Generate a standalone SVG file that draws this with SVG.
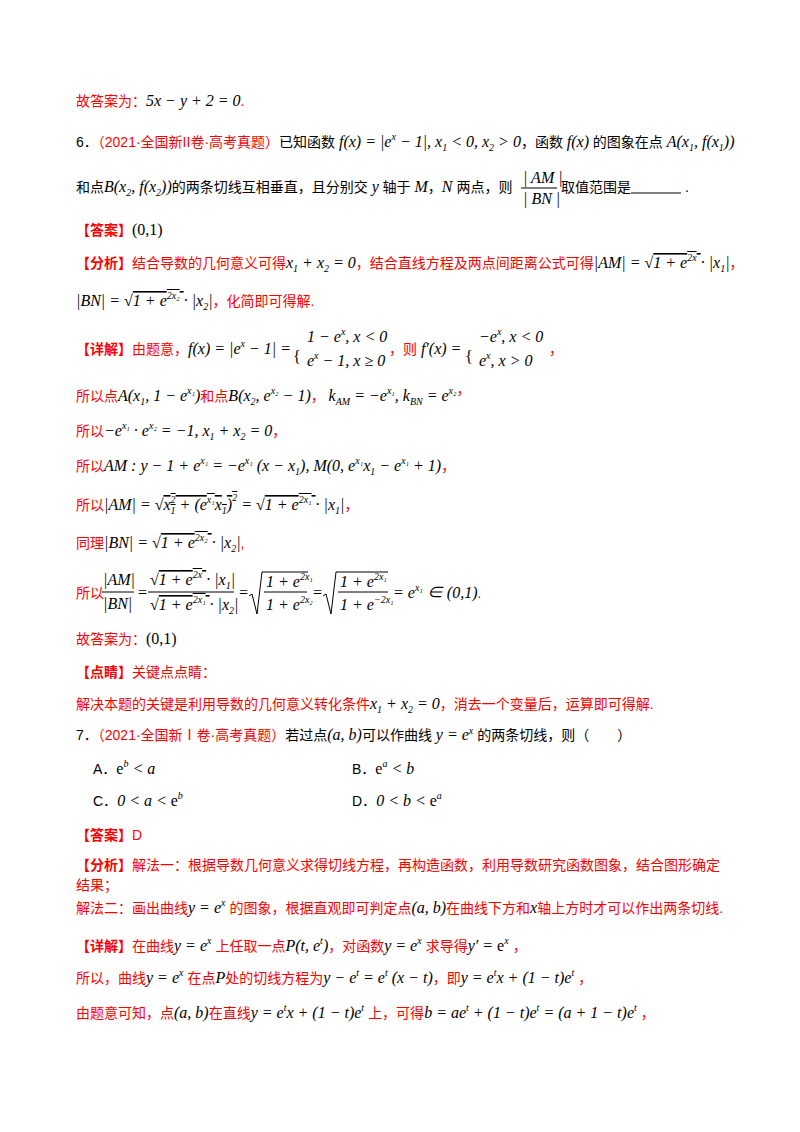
<svg xmlns="http://www.w3.org/2000/svg" width="800" height="1132" viewBox="0 0 800 1132">
<style>
text{font-family:"Liberation Sans","Noto Sans CJK SC",sans-serif;font-size:14px;fill:#000}
.r{fill:#f00}
tspan.r{fill:#f00}
.m{font-family:"Liberation Serif","Noto Sans CJK SC",serif;font-style:italic;font-size:16px;fill:#000}
.n{font-family:"Liberation Serif",serif;font-style:normal;font-size:16px;fill:#000}
.s{font-size:10px}
.b{font-weight:bold}
.o{text-decoration:overline}
.ln{stroke:#000;stroke-width:1;fill:none}
</style>
<rect width="800" height="1132" fill="#fff"/>
<text x="76" y="106" class="r">故答案为：<tspan class="m">5x − y + 2 = 0</tspan>.</text>

<text x="76" y="147">6．<tspan class="r">（2021·全国新II卷·高考真题）</tspan>已知函数 <tspan class="m">f(x) = |e<tspan class="s" dy="-7">x</tspan><tspan dy="7"> − 1|, x</tspan><tspan class="s" dy="4">1</tspan><tspan dy="-4"> &lt; 0, x</tspan><tspan class="s" dy="4">2</tspan><tspan dy="-4"> &gt; 0</tspan></tspan>，函数 <tspan class="m" font-size="12">f(x)</tspan> 的图象在点 <tspan class="m">A(x<tspan class="s" dy="4">1</tspan><tspan dy="-4">, f(x</tspan><tspan class="s" dy="4">1</tspan><tspan dy="-4">))</tspan></tspan></text>

<text x="76" y="192">和点<tspan class="m">B(x<tspan class="s" dy="4">2</tspan><tspan dy="-4">, f(x</tspan><tspan class="s" dy="4">2</tspan><tspan dy="-4">))</tspan></tspan>的两条切线互相垂直，且分别交 <tspan class="m">y</tspan> 轴于 <tspan class="m">M</tspan>，<tspan class="m">N</tspan> 两点，则</text>
<text x="523" y="183" class="m">| AM |</text>
<line x1="521" y1="188" x2="557" y2="188" class="ln"/>
<text x="523" y="204" class="m">| BN |</text>
<text x="561" y="192">取值范围是</text>
<line x1="631" y1="193" x2="681" y2="193" class="ln" stroke-width="1.5"/>
<text x="685" y="192">.</text>

<text x="76" y="235" class="r"><tspan class="b">【答案】</tspan><tspan class="n">(0,1)</tspan></text>

<text x="76" y="268" class="r"><tspan class="b">【分析】</tspan>结合导数的几何意义可得<tspan class="m">x<tspan class="s" dy="4">1</tspan><tspan dy="-4"> + x</tspan><tspan class="s" dy="4">2</tspan><tspan dy="-4"> = 0</tspan></tspan>，结合直线方程及两点间距离公式可得<tspan class="m">|AM| = <tspan class="n">√</tspan><tspan class="o">1 + e<tspan class="s" dy="-7">2x</tspan><tspan dy="7"> </tspan></tspan> · |x<tspan class="s" dy="4">1</tspan><tspan dy="-4">|</tspan></tspan>，</text>

<text x="76" y="306" class="r"><tspan class="m">|BN| = <tspan class="n">√</tspan><tspan class="o">1 + e<tspan class="s" dy="-7">2x₂</tspan><tspan dy="7"> </tspan></tspan> · |x<tspan class="s" dy="4">2</tspan><tspan dy="-4">|</tspan></tspan>，化简即可得解.</text>

<text x="76" y="354" class="r"><tspan class="b">【详解】</tspan>由题意，<tspan class="m">f(x) = |e<tspan class="s" dy="-7">x</tspan><tspan dy="7"> − 1| =</tspan></tspan></text>
<text x="293" y="362" class="n" font-size="38">{</text>
<text x="307" y="342" class="m">1 − e<tspan class="s" dy="-7">x</tspan><tspan dy="7">, x &lt; 0</tspan></text>
<text x="307" y="366" class="m">e<tspan class="s" dy="-7">x</tspan><tspan dy="7"> − 1, x ≥ 0</tspan></text>
<text x="389" y="354" class="r">，则 <tspan class="m">f′(x) =</tspan></text>
<text x="465" y="362" class="n" font-size="38">{</text>
<text x="479" y="342" class="m">−e<tspan class="s" dy="-7">x</tspan><tspan dy="7">, x &lt; 0</tspan></text>
<text x="479" y="366" class="m">e<tspan class="s" dy="-7">x</tspan><tspan dy="7">, x &gt; 0</tspan></text>
<text x="549" y="354" class="r">，</text>

<text x="76" y="401" class="r">所以点<tspan class="m">A(x<tspan class="s" dy="4">1</tspan><tspan dy="-4">, 1 − e</tspan><tspan class="s" dy="-7">x₁</tspan><tspan dy="7">)</tspan></tspan>和点<tspan class="m">B(x<tspan class="s" dy="4">2</tspan><tspan dy="-4">, e</tspan><tspan class="s" dy="-7">x₂</tspan><tspan dy="7"> − 1)</tspan></tspan>，  <tspan class="m">k<tspan class="s" dy="4">AM</tspan><tspan dy="-4"> = −e</tspan><tspan class="s" dy="-7">x₁</tspan><tspan dy="7">, k</tspan><tspan class="s" dy="4">BN</tspan><tspan dy="-4"> = e</tspan><tspan class="s" dy="-7">x₂</tspan><tspan dy="7"></tspan></tspan>，</text>

<text x="76" y="436" class="r">所以<tspan class="m">−e<tspan class="s" dy="-7">x₁</tspan><tspan dy="7"> · e</tspan><tspan class="s" dy="-7">x₂</tspan><tspan dy="7"> = −1, x</tspan><tspan class="s" dy="4">1</tspan><tspan dy="-4"> + x</tspan><tspan class="s" dy="4">2</tspan><tspan dy="-4"> = 0</tspan></tspan>，</text>

<text x="76" y="471" class="r">所以<tspan class="m">AM : y − 1 + e<tspan class="s" dy="-7">x₁</tspan><tspan dy="7"> = −e</tspan><tspan class="s" dy="-7">x₁</tspan><tspan dy="7"> (x − x</tspan><tspan class="s" dy="4">1</tspan><tspan dy="-4">), M(0, e</tspan><tspan class="s" dy="-7">x₁</tspan><tspan dy="7">x</tspan><tspan class="s" dy="4">1</tspan><tspan dy="-4"> − e</tspan><tspan class="s" dy="-7">x₁</tspan><tspan dy="7"> + 1)</tspan></tspan>，</text>

<text x="76" y="510" class="r">所以<tspan class="m">|AM| = <tspan class="n" font-size="22">√</tspan><tspan class="o">x<tspan class="s" dy="-7">2</tspan><tspan class="s" dx="-5" dy="11">1</tspan><tspan dy="-4"> + (e</tspan><tspan class="s" dy="-7">x₁</tspan><tspan dy="7">x</tspan><tspan class="s" dy="4">1</tspan><tspan dy="-4">)</tspan><tspan class="s" dy="-9">2</tspan></tspan><tspan dy="9"> = </tspan><tspan class="n">√</tspan><tspan class="o">1 + e<tspan class="s" dy="-7">2x₁</tspan><tspan dy="7"> </tspan></tspan> · |x<tspan class="s" dy="4">1</tspan><tspan dy="-4">|</tspan></tspan>，</text>

<text x="76" y="548" class="r">同理<tspan class="m">|BN| = <tspan class="n">√</tspan><tspan class="o">1 + e<tspan class="s" dy="-7">2x₂</tspan><tspan dy="7"> </tspan></tspan> · |x<tspan class="s" dy="4">2</tspan><tspan dy="-4">|</tspan></tspan>,</text>

<text x="76" y="598" class="r">所以</text>
<text x="103" y="585" class="m">|AM|</text>
<line x1="102" y1="592" x2="134" y2="592" class="ln"/>
<text x="103" y="609" class="m">|BN|</text>
<text x="137" y="598" class="m">=</text>
<text x="150" y="585" class="m"><tspan class="n">√</tspan><tspan class="o">1 + e<tspan class="s" dy="-7">2x</tspan><tspan dy="7"> </tspan></tspan> · |x<tspan class="s" dy="4">1</tspan><tspan dy="-4">|</tspan></text>
<line x1="148" y1="592" x2="234" y2="592" class="ln"/>
<text x="150" y="610" class="m"><tspan class="n">√</tspan><tspan class="o">1 + e<tspan class="s" dy="-7">2x₁</tspan><tspan dy="7"> </tspan></tspan> · |x<tspan class="s" dy="4">2</tspan><tspan dy="-4">|</tspan></text>
<text x="238" y="598" class="m">=</text>
<path d="M249 596 l3 -2 l5 20 l5 -42 h46" class="ln"/>
<text x="266" y="587" class="m">1 + e<tspan class="s" dy="-7">2x₁</tspan></text>
<line x1="264" y1="592" x2="307" y2="592" class="ln"/>
<text x="266" y="610" class="m">1 + e<tspan class="s" dy="-7">2x₂</tspan></text>
<text x="312" y="598" class="m">=</text>
<path d="M323 596 l3 -2 l5 20 l5 -42 h52" class="ln"/>
<text x="340" y="587" class="m">1 + e<tspan class="s" dy="-7">2x₁</tspan></text>
<line x1="338" y1="592" x2="388" y2="592" class="ln"/>
<text x="340" y="610" class="m">1 + e<tspan class="s" dy="-7">−2x₁</tspan></text>
<text x="393" y="598" class="r"><tspan class="m">= e<tspan class="s" dy="-7">x₁</tspan><tspan dy="7"> ∈ (0,1)</tspan></tspan>.</text>

<text x="76" y="644" class="r">故答案为：<tspan class="n">(0,1)</tspan></text>
<text x="76" y="677" class="r"><tspan class="b">【点睛】</tspan>关键点点睛：</text>
<text x="76" y="709" class="r">解决本题的关键是利用导数的几何意义转化条件<tspan class="m">x<tspan class="s" dy="4">1</tspan><tspan dy="-4"> + x</tspan><tspan class="s" dy="4">2</tspan><tspan dy="-4"> = 0</tspan></tspan>，消去一个变量后，运算即可得解.</text>

<text x="76" y="740">7．<tspan class="r">（2021·全国新Ⅰ卷·高考真题）</tspan>若过点<tspan class="m">(a, b)</tspan>可以作曲线 <tspan class="m" font-size="13">y = e<tspan class="s" dy="-6">x</tspan><tspan dy="6"> </tspan></tspan>的两条切线，则（　　）</text>
<text x="93" y="774">A．<tspan class="n">e</tspan><tspan class="m s" dy="-7">b</tspan><tspan class="m" dy="7"> &lt; a</tspan></text>
<text x="352" y="774">B．<tspan class="n">e</tspan><tspan class="m s" dy="-7">a</tspan><tspan class="m" dy="7"> &lt; b</tspan></text>
<text x="93" y="806">C．<tspan class="m">0 &lt; a &lt; </tspan><tspan class="n">e</tspan><tspan class="m s" dy="-7">b</tspan></text>
<text x="352" y="806">D．<tspan class="m">0 &lt; b &lt; </tspan><tspan class="n">e</tspan><tspan class="m s" dy="-7">a</tspan></text>
<text x="76" y="840" class="r"><tspan class="b">【答案】</tspan>D</text>
<text x="76" y="870" class="r"><tspan class="b">【分析】</tspan>解法一：根据导数几何意义求得切线方程，再构造函数，利用导数研究函数图象，结合图形确定</text>
<text x="76" y="890" class="r">结果；</text>
<text x="76" y="913" class="r">解法二：画出曲线<tspan class="m">y = e<tspan class="s" dy="-7">x</tspan><tspan dy="7"> </tspan></tspan>的图象，根据直观即可判定点<tspan class="m">(a, b)</tspan>在曲线下方和<tspan class="m" font-size="13">x</tspan>轴上方时才可以作出两条切线.</text>
<text x="76" y="951" class="r"><tspan class="b">【详解】</tspan>在曲线<tspan class="m">y = e<tspan class="s" dy="-7">x</tspan><tspan dy="7"> </tspan></tspan>上任取一点<tspan class="m" font-size="14">P(t, e<tspan class="s" dy="-7">t</tspan><tspan dy="7">)</tspan></tspan>，对函数<tspan class="m">y = e<tspan class="s" dy="-7">x</tspan><tspan dy="7"> </tspan></tspan>求导得<tspan class="m">y′ = <tspan class="n">e</tspan><tspan class="s" dy="-7">x</tspan><tspan dy="7"> </tspan></tspan>，</text>
<text x="76" y="983" class="r">所以，曲线<tspan class="m">y = e<tspan class="s" dy="-7">x</tspan><tspan dy="7"> </tspan></tspan>在点<tspan class="m" font-size="13">P</tspan>处的切线方程为<tspan class="m">y − e<tspan class="s" dy="-7">t</tspan><tspan dy="7"> = e</tspan><tspan class="s" dy="-7">t</tspan><tspan dy="7"> (x − t)</tspan></tspan>，即<tspan class="m">y = e<tspan class="s" dy="-7">t</tspan><tspan dy="7">x + (1 − t)e</tspan><tspan class="s" dy="-7">t</tspan><tspan dy="7"> </tspan></tspan>，</text>
<text x="76" y="1018" class="r">由题意可知，点<tspan class="m">(a, b)</tspan>在直线<tspan class="m">y = e<tspan class="s" dy="-7">t</tspan><tspan dy="7">x + (1 − t)e</tspan><tspan class="s" dy="-7">t</tspan><tspan dy="7"> </tspan></tspan>上，可得<tspan class="m">b = ae<tspan class="s" dy="-7">t</tspan><tspan dy="7"> + (1 − t)e</tspan><tspan class="s" dy="-7">t</tspan><tspan dy="7"> = (a + 1 − t)e</tspan><tspan class="s" dy="-7">t</tspan><tspan dy="7"> </tspan></tspan>，</text>
</svg>
